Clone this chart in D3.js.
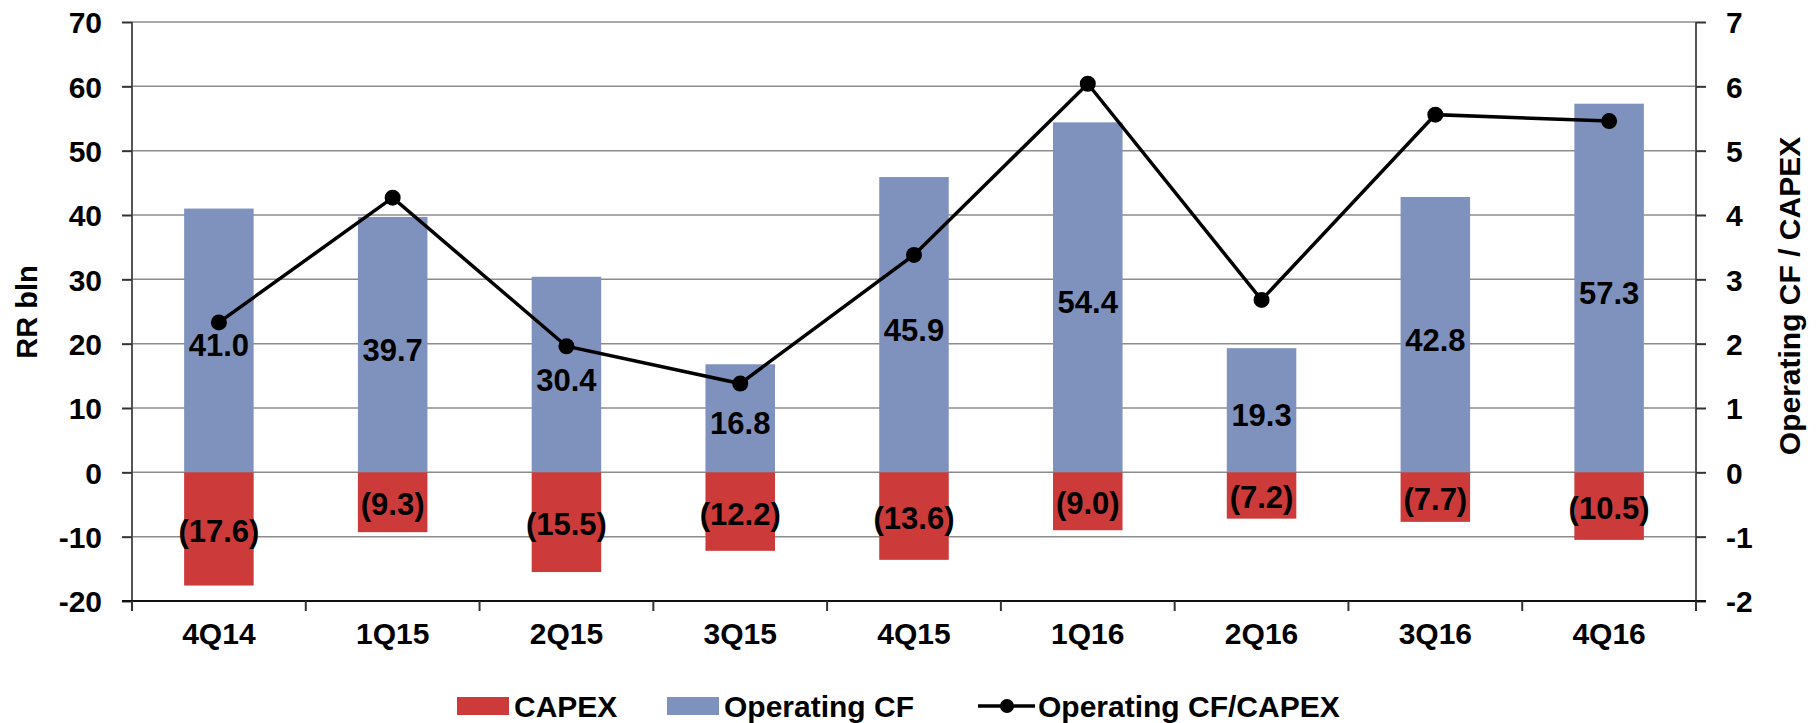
<!DOCTYPE html>
<html>
<head>
<meta charset="utf-8">
<script src="https://cdn.jsdelivr.net/npm/d3@7"></script>
<style>
  html, body { margin: 0; padding: 0; background: #fff; overflow: hidden; }
  svg { display: block; }
  text { font-family: "Liberation Sans", Arial, sans-serif; font-weight: bold; fill: #000; }
</style>
</head>
<body>
<svg id="chart"></svg>
<script>
// size
const width = 1817;
const height = 723;

// boundaries
const margin = { top: 22, right: 121, bottom: 122, left: 132 };
const innerWidth = width - margin.left - margin.right;
const innerHeight = height - margin.top - margin.bottom;

// data
const quarters = ["4Q14", "1Q15", "2Q15", "3Q15", "4Q15", "1Q16", "2Q16", "3Q16", "4Q16"];
const operatingCF = [41.0, 39.7, 30.4, 16.8, 45.9, 54.4, 19.3, 42.8, 57.3];
const capex = [-17.6, -9.3, -15.5, -12.2, -13.6, -9.0, -7.2, -7.7, -10.5];
const ratio = [2.33, 4.27, 1.96, 1.38, 3.38, 6.04, 2.68, 5.56, 5.46];
const leftTicks = [-20, -10, 0, 10, 20, 30, 40, 50, 60, 70];
const rightTicks = [-2, -1, 0, 1, 2, 3, 4, 5, 6, 7];

const blue = "#7f92be";
const red = "#cd3a3a";
const fontSize = 30;

const svg = d3.select("#chart")
    .attr("width", width)
    .attr("height", height);

const g = svg.append("g")
    .attr("transform", `translate(${margin.left},${margin.top})`);

// scales
const x = d3.scaleBand()
    .domain(quarters)
    .range([0, innerWidth])
    .paddingInner(0.6)
    .paddingOuter(0.3);
const step = x.step();
const y = d3.scaleLinear().domain([-20, 70]).range([innerHeight, 0]);
const y2 = d3.scaleLinear().domain([-2, 7]).range([innerHeight, 0]);

// grid lines
g.append("g")
    .selectAll("line")
    .data(leftTicks.filter(d => d !== -20))
    .enter()
    .append("line")
    .attr("x1", 0)
    .attr("x2", innerWidth)
    .attr("y1", d => y(d))
    .attr("y2", d => y(d))
    .attr("stroke", "#8c8c8c")
    .attr("stroke-width", 1.5);

// bars
g.append("g")
    .selectAll("rect")
    .data(quarters)
    .enter()
    .append("rect")
    .attr("x", d => x(d))
    .attr("width", x.bandwidth())
    .attr("y", (d, i) => y(operatingCF[i]))
    .attr("height", (d, i) => y(0) - y(operatingCF[i]))
    .attr("fill", blue);

g.append("g")
    .selectAll("rect")
    .data(quarters)
    .enter()
    .append("rect")
    .attr("x", d => x(d))
    .attr("width", x.bandwidth())
    .attr("y", y(0))
    .attr("height", (d, i) => y(capex[i]) - y(0))
    .attr("fill", red);

// left axis
const yAxis = d3.axisLeft(y).tickValues(leftTicks).tickFormat(d => String(d)).tickSize(10).tickPadding(20);
const ga = g.append("g").call(yAxis);
ga.select(".domain").attr("stroke", "#555").attr("stroke-width", 2).attr("d", `M-0,${innerHeight + 10}V0`);
ga.selectAll(".tick line").attr("stroke", "#333").attr("stroke-width", 2);
ga.selectAll("text").style("font-size", fontSize + "px").attr("dy", "0.36em");

// right axis
const y2Axis = d3.axisRight(y2).tickValues(rightTicks).tickFormat(d => String(d)).tickSize(10).tickPadding(20);
const gb = g.append("g").attr("transform", `translate(${innerWidth},0)`).call(y2Axis);
gb.select(".domain").attr("stroke", "#555").attr("stroke-width", 2).attr("d", `M0,${innerHeight + 10}V0`);
gb.selectAll(".tick line").attr("stroke", "#333").attr("stroke-width", 2);
gb.selectAll("text").style("font-size", fontSize + "px").attr("dy", "0.36em");

// bottom axis with ticks on band boundaries
g.append("line")
    .attr("x1", -10).attr("x2", innerWidth + 10)
    .attr("y1", innerHeight).attr("y2", innerHeight)
    .attr("stroke", "#111").attr("stroke-width", 2);
g.append("g")
    .selectAll("line")
    .data(d3.range(quarters.length + 1))
    .enter()
    .append("line")
    .attr("x1", i => i * step)
    .attr("x2", i => i * step)
    .attr("y1", innerHeight)
    .attr("y2", innerHeight + 10)
    .attr("stroke", "#333")
    .attr("stroke-width", 2);
g.append("g")
    .selectAll("text")
    .data(quarters)
    .enter()
    .append("text")
    .attr("x", d => x(d) + x.bandwidth() / 2)
    .attr("y", innerHeight + 43)
    .attr("text-anchor", "middle")
    .style("font-size", fontSize + "px")
    .text(d => d);

// value labels
g.append("g")
    .selectAll("text")
    .data(quarters)
    .enter()
    .append("text")
    .attr("x", d => x(d) + x.bandwidth() / 2)
    .attr("y", (d, i) => (y(0) + y(operatingCF[i])) / 2 + 16)
    .attr("text-anchor", "middle")
    .style("font-size", "31px")
    .text((d, i) => operatingCF[i].toFixed(1));

g.append("g")
    .selectAll("text")
    .data(quarters)
    .enter()
    .append("text")
    .attr("x", d => x(d) + x.bandwidth() / 2)
    .attr("y", (d, i) => (y(0) + y(capex[i])) / 2 + 13)
    .attr("text-anchor", "middle")
    .style("font-size", "31px")
    .text((d, i) => `(${Math.abs(capex[i]).toFixed(1)})`);

// ratio line
const line = d3.line()
    .x((d, i) => x(quarters[i]) + x.bandwidth() / 2)
    .y(d => y2(d));
g.append("path")
    .datum(ratio)
    .attr("d", line)
    .attr("fill", "none")
    .attr("stroke", "#000")
    .attr("stroke-width", 3.5);
g.append("g")
    .selectAll("circle")
    .data(ratio)
    .enter()
    .append("circle")
    .attr("cx", (d, i) => x(quarters[i]) + x.bandwidth() / 2)
    .attr("cy", d => y2(d))
    .attr("r", 8)
    .attr("fill", "#000");

// axis titles
svg.append("text")
    .attr("text-anchor", "middle")
    .attr("transform", `translate(37, 312) rotate(-90)`)
    .style("font-size", "29px")
    .text("RR bln");
svg.append("text")
    .attr("text-anchor", "middle")
    .attr("transform", `translate(1800, 296) rotate(-90)`)
    .style("font-size", fontSize + "px")
    .text("Operating CF / CAPEX");

// legend
const legend = svg.append("g").attr("transform", "translate(0, 706)");
legend.append("rect").attr("x", 457).attr("y", -9).attr("width", 52).attr("height", 18).attr("fill", red);
legend.append("text").attr("x", 514).attr("y", 11).style("font-size", fontSize + "px").text("CAPEX");
legend.append("rect").attr("x", 667).attr("y", -9).attr("width", 52).attr("height", 18).attr("fill", blue);
legend.append("text").attr("x", 724).attr("y", 11).style("font-size", fontSize + "px").text("Operating CF");
legend.append("line").attr("x1", 978).attr("x2", 1035).attr("y1", 0).attr("y2", 0).attr("stroke", "#000").attr("stroke-width", 3.5);
legend.append("circle").attr("cx", 1007).attr("cy", 0).attr("r", 7).attr("fill", "#000");
legend.append("text").attr("x", 1038).attr("y", 11).style("font-size", fontSize + "px").text("Operating CF/CAPEX");
</script>
</body>
</html>
